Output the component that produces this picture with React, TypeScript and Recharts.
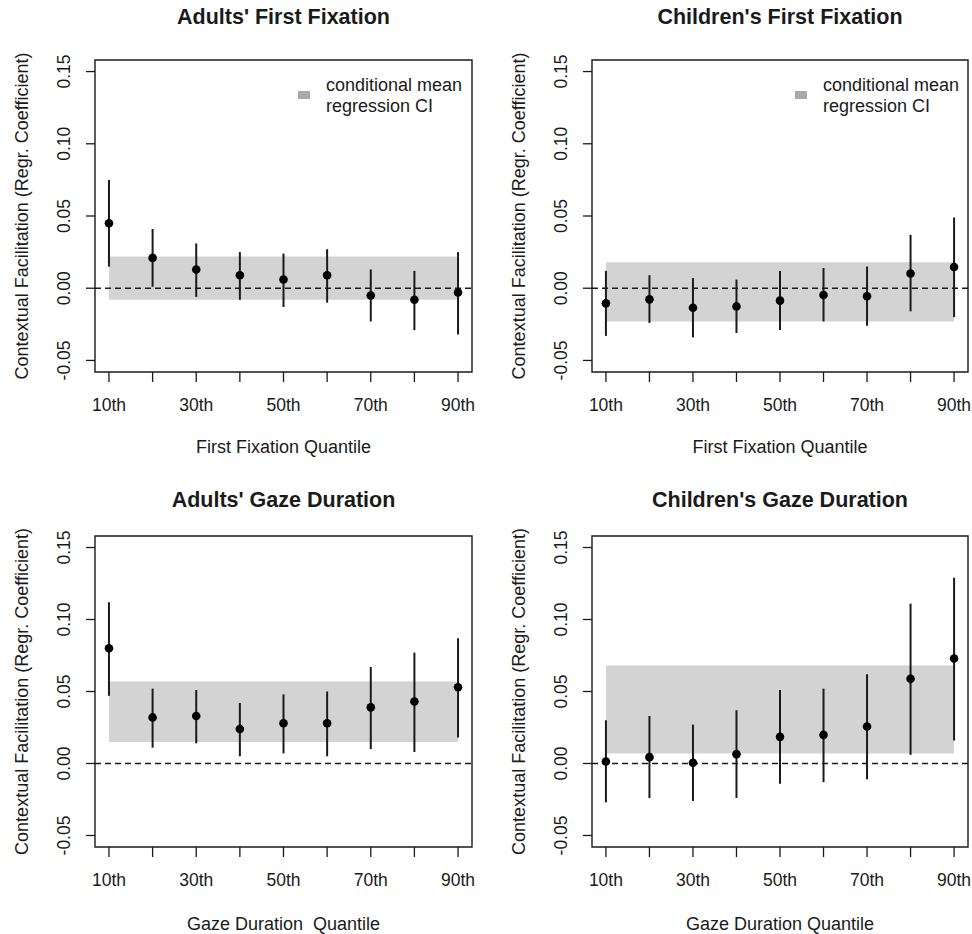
import React from "react";
import {
  ComposedChart,
  Scatter,
  ErrorBar,
  XAxis,
  YAxis,
  ReferenceArea,
  ReferenceLine,
} from "recharts";

const quantileLabels = ["10th", "20th", "30th", "40th", "50th", "60th", "70th", "80th", "90th"];
const quantilePos = [1, 2, 3, 4, 5, 6, 7, 8, 9];
const yTicks = [-0.05, 0, 0.05, 0.1, 0.15];

// Adults' first fixation
const adultsFfEst = [0.045, 0.021, 0.013, 0.009, 0.006, 0.009, -0.005, -0.008, -0.003];
const adultsFfLo = [0.015, 0.001, -0.006, -0.008, -0.013, -0.01, -0.023, -0.029, -0.032];
const adultsFfHi = [0.075, 0.041, 0.031, 0.025, 0.024, 0.027, 0.013, 0.012, 0.025];
const adultsFfBand = [-0.008, 0.022];

// Children's first fixation
const childFfEst = [-0.0105, -0.0077, -0.0135, -0.0126, -0.0086, -0.0047, -0.0056, 0.0102, 0.0147];
const childFfLo = [-0.033, -0.024, -0.034, -0.031, -0.029, -0.023, -0.026, -0.016, -0.02];
const childFfHi = [0.012, 0.009, 0.007, 0.006, 0.012, 0.014, 0.015, 0.037, 0.049];
const childFfBand = [-0.023, 0.018];

// Adults' gaze duration
const adultsGdEst = [0.08, 0.032, 0.033, 0.024, 0.028, 0.028, 0.039, 0.043, 0.053];
const adultsGdLo = [0.047, 0.011, 0.014, 0.005, 0.007, 0.005, 0.01, 0.008, 0.018];
const adultsGdHi = [0.112, 0.052, 0.051, 0.042, 0.048, 0.05, 0.067, 0.077, 0.087];
const adultsGdBand = [0.015, 0.057];

// Children's gaze duration
const childGdEst = [0.0014, 0.0044, 0.0005, 0.0065, 0.0185, 0.0199, 0.0257, 0.0588, 0.0729];
const childGdLo = [-0.027, -0.024, -0.026, -0.024, -0.014, -0.013, -0.011, 0.006, 0.016];
const childGdHi = [0.03, 0.033, 0.027, 0.037, 0.051, 0.052, 0.062, 0.111, 0.129];
const childGdBand = [0.007, 0.068];

const FONT = '"Liberation Sans", Arial, Helvetica, sans-serif';
const INK = "#1a1a1a";
const W = 486;
const H = 467;
const X_DOMAIN = [0.68, 9.32];
const Y_DOMAIN = [-0.058, 0.158];

function buildRows(est: number[], lo: number[], hi: number[]) {
  return est.map((e, i) => ({
    q: quantilePos[i],
    est: e,
    err: [e - lo[i], hi[i] - e],
  }));
}

const XTick = (props: any) => {
  const { x, y, payload } = props;
  const idx = quantilePos.indexOf(payload.value);
  const label = idx % 2 === 0 ? quantileLabels[idx] : "";
  return (
    <text x={x} y={y + 27.3} textAnchor="middle" fontSize={17.5} fontFamily={FONT} fill={INK}>
      {label}
    </text>
  );
};

const YTick = (props: any) => {
  const { x, y, payload } = props;
  const bx = x - 14.4;
  return (
    <text
      x={bx}
      y={y}
      transform={`rotate(-90 ${bx} ${y})`}
      textAnchor="middle"
      fontSize={17.5}
      fontFamily={FONT}
      fill={INK}
    >
      {Number(payload.value).toFixed(2)}
    </text>
  );
};

const dot = (p: any) => <circle cx={p.cx} cy={p.cy} r={4.3} fill="#000" />;

type PanelProps = {
  left: number;
  top: number;
  yAxisWidth: number;
  marginTop: number;
  marginRight: number;
  xAxisHeight: number;
  title: string;
  titleTop: number;
  xTitle: string;
  xTitleGap: number;
  legend: boolean;
  est: number[];
  lo: number[];
  hi: number[];
  band: number[];
};

function Panel(p: PanelProps) {
  const rows = buildRows(p.est, p.lo, p.hi);
  const plotLeft = p.yAxisWidth;
  const plotWidth = W - p.yAxisWidth - p.marginRight;

  return (
    <div style={{ position: "absolute", left: p.left, top: p.top, width: W, height: H }}>
      <div
        style={{
          position: "absolute",
          left: plotLeft,
          width: plotWidth,
          top: p.titleTop,
          textAlign: "center",
          fontFamily: FONT,
          fontWeight: "bold",
          fontSize: 21.5,
          lineHeight: "22px",
          color: INK,
          whiteSpace: "nowrap",
        }}
      >
        {p.title}
      </div>

      {p.legend && (
        <div style={{ position: "absolute", left: plotLeft + 203, top: p.marginTop + 15.4, fontFamily: FONT }}>
          <div
            style={{
              position: "absolute",
              left: 0,
              top: 15.3,
              width: 11.5,
              height: 8.8,
              background: "#aaaaaa",
            }}
          />
          <div style={{ position: "absolute", left: 28, top: 0, fontSize: 18, lineHeight: "21px", color: INK, whiteSpace: "nowrap" }}>
            conditional mean
            <br />
            regression CI
          </div>
        </div>
      )}

      <ComposedChart
        width={W}
        height={H}
        data={rows}
        margin={{ top: p.marginTop, right: p.marginRight, bottom: 0, left: 0 }}
        style={{ position: "absolute", left: 0, top: 0 }}
      >
        <XAxis
          type="number"
          dataKey="q"
          domain={X_DOMAIN}
          ticks={quantilePos}
          interval={0}
          allowDataOverflow
          height={p.xAxisHeight}
          axisLine={false}
          tickSize={10}
          tickLine={{ stroke: INK, strokeWidth: 1.3 }}
          tick={<XTick />}
          label={{
            content: (lp: any) => {
              const vb = lp.viewBox;
              return (
                <text
                  x={vb.x + vb.width / 2}
                  y={vb.y + p.xTitleGap + 6.4}
                  textAnchor="middle"
                  fontSize={18}
                  fontFamily={FONT}
                  fill={INK}
                  style={{ whiteSpace: "pre" }}
                >
                  {p.xTitle}
                </text>
              );
            },
          }}
        />
        <YAxis
          type="number"
          dataKey="est"
          domain={Y_DOMAIN}
          ticks={yTicks}
          interval={0}
          allowDataOverflow
          width={p.yAxisWidth}
          axisLine={false}
          tickSize={9}
          tickLine={{ stroke: INK, strokeWidth: 1.3 }}
          tick={<YTick />}
          label={{
            content: (lp: any) => {
              const vb = lp.viewBox;
              const bx = vb.x + vb.width - 73 + 6.4;
              const cy = vb.y + vb.height / 2;
              return (
                <text
                  x={bx}
                  y={cy}
                  transform={`rotate(-90 ${bx} ${cy})`}
                  textAnchor="middle"
                  fontSize={18}
                  fontFamily={FONT}
                  fill={INK}
                >
                  Contextual Facilitation (Regr. Coefficient)
                </text>
              );
            },
          }}
        />
        <ReferenceArea
          x1={quantilePos[0]}
          x2={quantilePos[quantilePos.length - 1]}
          y1={p.band[0]}
          y2={p.band[1]}
          fill="#d3d3d3"
          fillOpacity={1}
          stroke="none"
        />
        <ReferenceLine y={0} stroke={INK} strokeWidth={1.5} strokeDasharray="6 4" />
        <Scatter dataKey="est" isAnimationActive={false} shape={dot}>
          <ErrorBar dataKey="err" direction="y" width={0} stroke={INK} strokeWidth={2} isAnimationActive={false} />
        </Scatter>
        <ReferenceArea
          x1={X_DOMAIN[0]}
          x2={X_DOMAIN[1]}
          y1={Y_DOMAIN[0]}
          y2={Y_DOMAIN[1]}
          fill="none"
          stroke={INK}
          strokeWidth={1.4}
        />
      </ComposedChart>
    </div>
  );
}

export default function App() {
  return (
    <div style={{ position: "absolute", left: 0, top: 0, width: 972, height: 934, background: "#fff" }}>
      <Panel
        left={0}
        top={0}
        yAxisWidth={95}
        marginTop={60}
        marginRight={14}
        xAxisHeight={95}
        title="Adults' First Fixation"
        titleTop={6.2}
        xTitle="First Fixation Quantile"
        xTitleGap={74.7}
        legend
        est={adultsFfEst}
        lo={adultsFfLo}
        hi={adultsFfHi}
        band={adultsFfBand}
      />
      <Panel
        left={486}
        top={0}
        yAxisWidth={106}
        marginTop={60}
        marginRight={4}
        xAxisHeight={95}
        title="Children's First Fixation"
        titleTop={6.2}
        xTitle="First Fixation Quantile"
        xTitleGap={74.7}
        legend
        est={childFfEst}
        lo={childFfLo}
        hi={childFfHi}
        band={childFfBand}
      />
      <Panel
        left={0}
        top={467}
        yAxisWidth={95}
        marginTop={69}
        marginRight={14}
        xAxisHeight={87}
        title="Adults' Gaze Duration"
        titleTop={22.2}
        xTitle="Gaze Duration  Quantile"
        xTitleGap={76.7}
        legend={false}
        est={adultsGdEst}
        lo={adultsGdLo}
        hi={adultsGdHi}
        band={adultsGdBand}
      />
      <Panel
        left={486}
        top={467}
        yAxisWidth={106}
        marginTop={69}
        marginRight={4}
        xAxisHeight={87}
        title="Children's Gaze Duration"
        titleTop={22.2}
        xTitle="Gaze Duration Quantile"
        xTitleGap={76.7}
        legend={false}
        est={childGdEst}
        lo={childGdLo}
        hi={childGdHi}
        band={childGdBand}
      />
    </div>
  );
}
